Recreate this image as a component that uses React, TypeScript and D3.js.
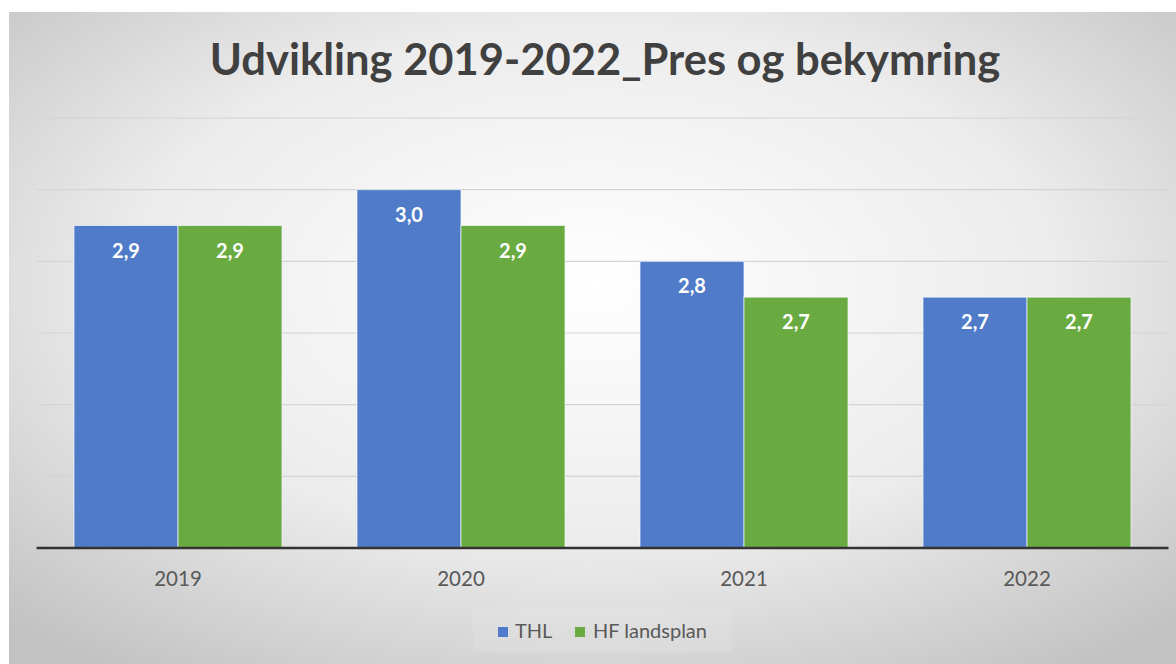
import React from 'react';
import * as d3 from 'd3';

// values
const years = ['2019', '2020', '2021', '2022'];
const thlValues = [2.9, 3.0, 2.8, 2.7];
const hfValues = [2.9, 2.9, 2.7, 2.7];
const seriesNames = ['THL', 'HF landsplan'];
const gridTicks = [2.2, 2.4, 2.6, 2.8, 3.0, 3.2];

const W = 1176;
const H = 664;
const colors = ['#4f7bc8', '#6aab41'];
const font = 'Lato, "Open Sans", sans-serif';

const fmt = d3.formatLocale({ decimal: ',', thousands: '.', grouping: [3], currency: ['', ' kr'] }).format('.1f');

const App = () => {
  const margin = { left: 36.5, right: 7.5, top: 118, bottom: 116 };
  const x = d3
    .scaleBand<string>()
    .domain(years)
    .range([margin.left, W - margin.right])
    .paddingInner(0.265)
    .paddingOuter(0.1325);
  const x1 = d3.scaleBand<string>().domain(seriesNames).range([0, x.bandwidth()]).padding(0);
  const y = d3.scaleLinear().domain([2.0, 3.2]).range([H - margin.bottom, margin.top]);

  const series = [thlValues, hfValues];

  return (
    <svg width={W} height={H} style={{ position: 'absolute', left: 0, top: 0 }} fontFamily={font}>
      <defs>
        <radialGradient id="bg" cx="50%" cy="42%" r="72%">
          <stop offset="0%" stopColor="#ffffff" />
          <stop offset="55%" stopColor="#ececec" />
          <stop offset="100%" stopColor="#c2c2c2" />
        </radialGradient>
      </defs>
      <rect width={W} height={H} fill="#fff" />
      <rect x={9} y={12} width={W - 9} height={H - 12} fill="url(#bg)" />

      <text x={605} y={75} textAnchor="middle" fontSize={43.5} fontWeight="bold" fill="#404040">
        Udvikling 2019-2022_Pres og bekymring
      </text>

      {gridTicks.map((t) => (
        <line key={t} x1={margin.left} x2={W - margin.right} y1={y(t)} y2={y(t)} stroke="#d4d4d4" strokeWidth={1.2} />
      ))}

      {series.map((vals, si) =>
        vals.map((v, i) => {
          const bx = (x(years[i]) as number) + (x1(seriesNames[si]) as number);
          const bw = x1.bandwidth();
          return (
            <g key={`${si}-${i}`}>
              <rect
                x={bx}
                y={y(v)}
                width={bw}
                height={y(2.0) - y(v)}
                fill={colors[si]}
                stroke="#f4f8ff"
                strokeOpacity={0.7}
                strokeWidth={1}
              />
              <text x={bx + bw / 2} y={y(v) + 32} textAnchor="middle" fontSize={20} fontWeight="bold" fill="#fff">
                {fmt(v)}
              </text>
            </g>
          );
        })
      )}

      <line x1={margin.left} x2={W - margin.right} y1={y(2.0)} y2={y(2.0)} stroke="#333" strokeWidth={2.5} />

      {years.map((yr) => (
        <text key={yr} x={(x(yr) as number) + x.bandwidth() / 2} y={586} textAnchor="middle" fontSize={20.5} fill="#595959">
          {yr}
        </text>
      ))}

      <rect x={473} y={608} width={259} height={45} fill="#fff" fillOpacity={0.1} />
      <g transform="translate(498,638)">
        <rect x={0} y={-11} width={10} height={10} fill={colors[0]} />
        <text x={17} y={0} fontSize={20} fill="#595959">THL</text>
        <rect x={77} y={-11} width={10} height={10} fill={colors[1]} />
        <text x={95} y={0} fontSize={20} fill="#595959">HF landsplan</text>
      </g>
    </svg>
  );
};

export default App;
